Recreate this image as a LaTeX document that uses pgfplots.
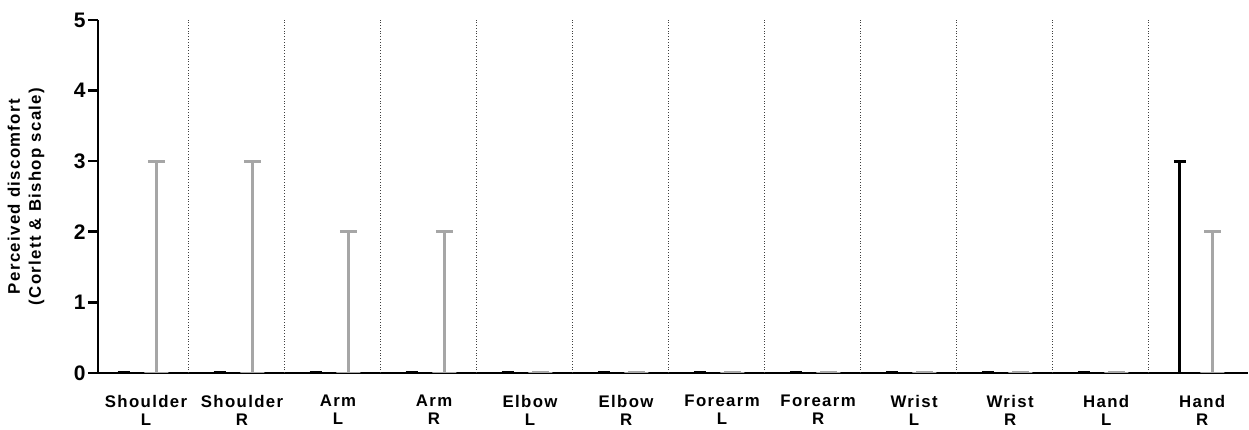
\documentclass[border=0pt]{standalone}
\usepackage{fontspec}
\setmainfont{Liberation Sans}
\usepackage{pgfplots}
\pgfplotsset{compat=1.18}
\definecolor{bargray}{RGB}{166,166,166}

\begin{document}
\begin{tikzpicture}
  \begin{axis}[
    at={(0,0)}, anchor=south west,
    scale only axis,
    width=575pt, height=176.5pt,
    xmin=-0.4375, xmax=11.54,
    ymin=0, ymax=5,
    axis lines*=left,
    x axis line style={-, line width=1.4pt},
    y axis line style={-, line width=1.3pt},
    ytick={0,1,2,3,4,5},
    tick align=outside,
    major tick length=5pt,
    ytick style={line width=1.3pt, black},
    xtick={0,...,11},
    xtick style={draw=none},
    xticklabels={{Shoulder\\L},{Shoulder\\R},{Arm\\L},{Arm\\R},{Elbow\\L},{Elbow\\R},
      {Forearm\\L},{Forearm\\R},{Wrist\\L},{Wrist\\R},{Hand\\L},{Hand\\R}},
    xticklabel style={align=center, font=\bfseries\fontsize{8.4}{9}\selectfont\addfontfeature{LetterSpace=8},
      xshift=3pt, yshift=-2.5pt},
    yticklabel style={font=\bfseries\fontsize{10.5}{12}\selectfont, inner sep=1pt},
    /pgf/number format/assume math mode=true,
    extra x ticks={0.5,1.5,2.5,3.5,4.5,5.5,6.5,7.5,8.5,9.5,10.5},
    extra x tick labels={},
    extra x tick style={grid=major, major grid style={densely dotted, line width=0.5pt, black!75}},
    ylabel={Perceived discomfort\\(Corlett \& Bishop scale)},
    ylabel style={align=center, font=\bfseries\fontsize{8.4}{10.5}\selectfont\addfontfeature{LetterSpace=8},
      at={(axis description cs:-0.0626,0.5)}, anchor=center},
  ]
    % left bar of each pair (black): median 0, error bar up to the maximum
    \addplot[ybar, bar width=0.25, bar shift=0, draw=black, fill=black, line width=1.2pt,
      error bars/.cd, y dir=plus, y explicit,
      error bar style={line width=1.6pt, black},
      error mark=|, error mark options={line width=1.6pt, mark size=3pt, black}]
      coordinates {(-0.17,0) +- (0,0) (0.83,0) +- (0,0) (1.83,0) +- (0,0) (2.83,0) +- (0,0)
        (3.83,0) +- (0,0) (4.83,0) +- (0,0) (5.83,0) +- (0,0) (6.83,0) +- (0,0)
        (7.83,0) +- (0,0) (8.83,0) +- (0,0) (9.83,0) +- (0,0) (10.83,0) +- (0,3)};
    % right bar of each pair (grey)
    \addplot[ybar, bar width=0.25, bar shift=0, draw=bargray, fill=bargray, line width=1.2pt,
      error bars/.cd, y dir=plus, y explicit,
      error bar style={line width=1.6pt, bargray},
      error mark=|, error mark options={line width=1.6pt, mark size=4.2pt, bargray}]
      coordinates {(0.17,0) +- (0,3) (1.17,0) +- (0,3) (2.17,0) +- (0,2) (3.17,0) +- (0,2)
        (4.17,0) +- (0,0) (5.17,0) +- (0,0) (6.17,0) +- (0,0) (7.17,0) +- (0,0)
        (8.17,0) +- (0,0) (9.17,0) +- (0,0) (10.17,0) +- (0,0) (11.17,0) +- (0,2)};
  \end{axis}
  \pgfresetboundingbox
  \path[use as bounding box] (-49pt,-28pt) rectangle (575.5pt,186.5pt);
\end{tikzpicture}
\end{document}
